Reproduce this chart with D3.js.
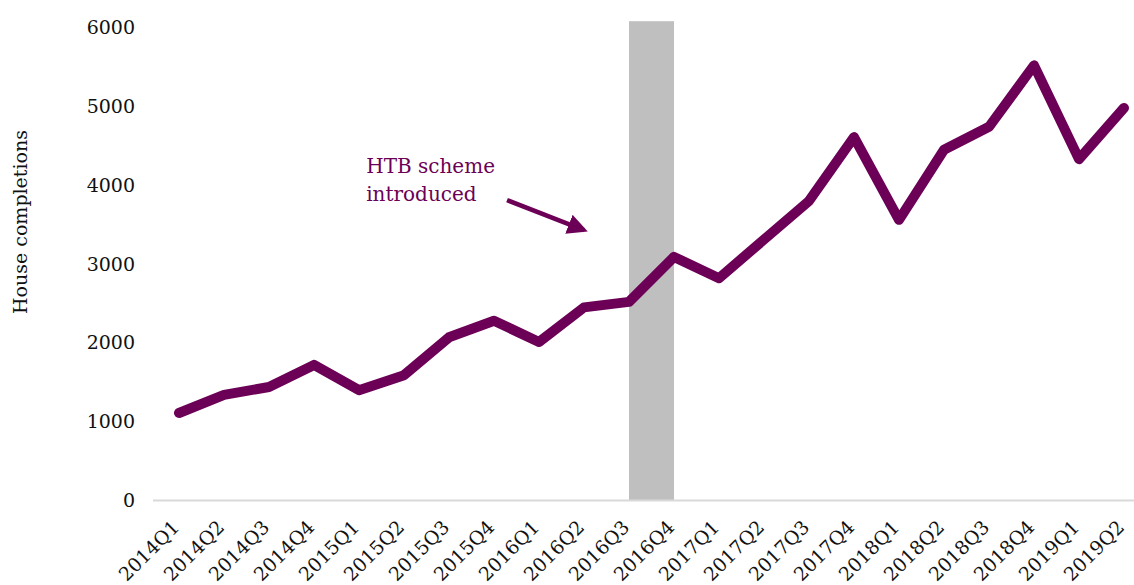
<!DOCTYPE html>
<html>
<head>
<meta charset="utf-8">
<script src="https://cdn.jsdelivr.net/npm/d3@7"></script>
<style>
  html, body { margin: 0; padding: 0; background: #fff; }
  svg { display: block; font-family: "DejaVu Serif", serif; }
</style>
</head>
<body>
<svg id="chart" width="1134" height="585"></svg>
<script>
// Quarterly house completions
const quarters = ["2014Q1","2014Q2","2014Q3","2014Q4","2015Q1","2015Q2","2015Q3","2015Q4",
  "2016Q1","2016Q2","2016Q3","2016Q4","2017Q1","2017Q2","2017Q3","2017Q4",
  "2018Q1","2018Q2","2018Q3","2018Q4","2019Q1","2019Q2"];
const completions = [1110,1340,1440,1720,1400,1590,2070,2280,2010,2450,2520,3090,
  2820,3310,3800,4610,3560,4450,4740,5520,4330,4980];
const yTicks = [0,1000,2000,3000,4000,5000,6000];
// Shaded period when the Help-to-Buy scheme came in
const schemeSpan = ["2016Q3","2016Q4"];
const schemeTop = 6080;
const noteLines = ["HTB scheme","introduced"];

const purple = "#6c0056";
const svg = d3.select("#chart");

const x = d3.scalePoint().domain(quarters).range([179, 1124]);
const y = d3.scaleLinear().domain([0, 6000]).range([500.5, 27.5]);
// fractional category position, for placing the annotation
const xi = d3.scaleLinear().domain([0, quarters.length - 1]).range(x.range());

// highlight band
svg.append("rect")
  .attr("x", x(schemeSpan[0]))
  .attr("width", x(schemeSpan[1]) - x(schemeSpan[0]))
  .attr("y", y(schemeTop))
  .attr("height", y(0) - y(schemeTop))
  .attr("fill", "#bfbfbf");

// baseline
svg.append("line")
  .attr("x1", 153).attr("x2", 1134)
  .attr("y1", y(0)).attr("y2", y(0))
  .attr("stroke", "#d9d9d9").attr("stroke-width", 2);

// y axis labels
const yAxis = svg.append("g")
  .attr("transform", "translate(135,0)")
  .call(d3.axisLeft(y).tickValues(yTicks).tickSize(0).tickPadding(0).tickFormat(d3.format("d")));
yAxis.select(".domain").remove();
yAxis.selectAll("text").attr("font-size", 19).attr("font-family", "DejaVu Serif").attr("fill", "#111");

// x axis labels, rotated
const xAxis = svg.append("g")
  .attr("transform", `translate(0,${y(0)})`)
  .call(d3.axisBottom(x).tickSize(0).tickPadding(0));
xAxis.select(".domain").remove();
xAxis.selectAll("text")
  .attr("font-size", 19).attr("font-family", "DejaVu Serif").attr("fill", "#111")
  .attr("text-anchor", "end")
  .attr("dy", 0)
  .attr("transform", "translate(1,28) rotate(-45)");

// y axis title
svg.append("text")
  .attr("transform", "translate(27,222) rotate(-90)")
  .attr("text-anchor", "middle")
  .attr("font-size", 19)
  .attr("fill", "#111")
  .text("House completions");

// series line
const line = d3.line()
  .x((d, i) => x(quarters[i]))
  .y(d => y(d));
svg.append("path")
  .datum(completions)
  .attr("d", line)
  .attr("fill", "none")
  .attr("stroke", purple)
  .attr("stroke-width", 10)
  .attr("stroke-linejoin", "round")
  .attr("stroke-linecap", "round");

// annotation text
svg.append("text")
  .attr("x", xi(4.16))
  .attr("y", y(4160))
  .attr("font-size", 20)
  .attr("fill", purple)
  .selectAll("tspan")
  .data(noteLines)
  .join("tspan")
  .attr("x", xi(4.16))
  .attr("dy", (d, i) => i === 0 ? 0 : 28)
  .text(d => d);

// annotation arrow
svg.append("defs").append("marker")
  .attr("id", "head")
  .attr("viewBox", "0 0 10 10")
  .attr("refX", 8).attr("refY", 5)
  .attr("markerWidth", 4.5).attr("markerHeight", 4.5)
  .attr("orient", "auto")
  .append("path")
  .attr("d", "M0,0 L10,5 L0,10 Z")
  .attr("fill", purple);

svg.append("line")
  .attr("x1", xi(7.29)).attr("y1", y(3810))
  .attr("x2", xi(9.0)).attr("y2", y(3430))
  .attr("stroke", purple)
  .attr("stroke-width", 4.5)
  .attr("marker-end", "url(#head)");
</script>
</body>
</html>
